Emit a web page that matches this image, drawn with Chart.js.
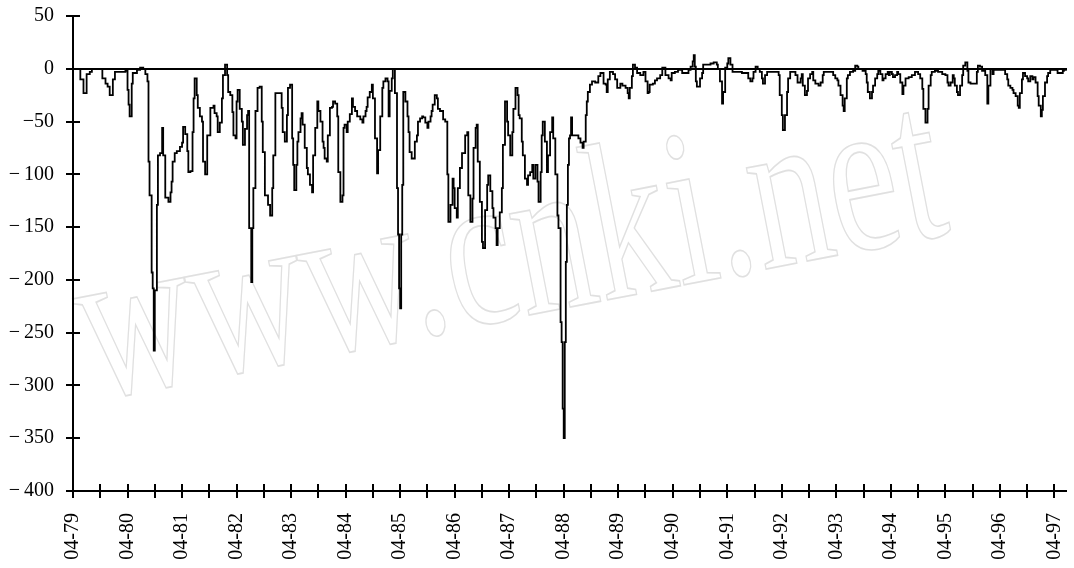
<!DOCTYPE html>
<html>
<head>
<meta charset="utf-8">
<script src="https://cdn.jsdelivr.net/npm/chart.js@4.4.0/dist/chart.umd.min.js"></script>
<style>
  html, body { margin: 0; padding: 0; background: #fff; }
  #wrap { width: 1074px; height: 568px; }
</style>
</head>
<body>
<div id="wrap"><canvas id="c" width="1074" height="568"></canvas></div>
<script>
// Weekly series, x = week number counted from the first week of April 1979.
const weekIndex = [
  0,5,7,10,13,16,18,23,28,31,33,35,38,40,50,52,53,54,56,57,
  61,64,67,69,71,72,73,75,76,77,78,80,81,83,85,86,88,91,93,94,
  95,97,99,102,104,105,107,109,110,112,114,115,116,
  118,119,121,123,124,126,128,131,134,135,137,138,140,142,143,145,147,148,150,152,
  153,155,156,157,159,161,162,164,166,167,168,170,171,172,174,176,178,180,181,183,
  186,188,190,191,193,199,200,202,204,205,207,209,210,211,213,214,215,217,218,219,
  221,223,224,226,228,229,231,233,234,236,238,239,240,242,243,245,247,
  248,250,252,253,255,257,258,259,261,262,264,266,267,269,271,274,276,277,279,280,
  281,283,285,286,288,290,291,293,295,296,298,300,301,302,304,305,307,309,310,311,
  312,313,314,315,317,319,320,321,323,326,328,329,331,333,334,336,338,339,341,342,
  343,345,347,348,350,353,355,357,358,360,362,363,364,366,367,369,371,374,376,377,
  379,381,382,384,385,386,388,390,391,393,395,396,398,400,401,403,404,405,407,409,
  410,412,414,415,417,419,420,422,424,425,426,428,429,431,433,434,436,438,439,441,
  443,444,446,447,448,450,452,453,455,457,458,460,462,463,465,466,467,468,469,470,
  471,472,473,474,475,476,482,484,486,487,489,490,491,493,495,498,501,
  503,506,508,509,510,512,515,517,519,522,524,527,529,530,531,533,534,536,538,541,
  544,546,548,549,550,553,555,557,560,562,565,568,570,571,574,577,581,587,589,591,
  592,593,594,595,598,600,601,608,611,614,615,617,619,620,622,624,625,627,629,638,
  644,646,648,649,651,653,655,657,658,660,662,673,674,676,677,679,681,682,684,689,
  691,694,695,696,698,700,701,703,705,706,708,711,713,715,716,725,727,729,730,732,
  734,735,736,738,739,741,744,746,748,749,753,756,757,758,760,762,763,765,767,768,
  770,772,773,775,777,778,779,781,782,784,786,787,789,791,792,794,797,800,803,806,
  808,810,811,813,815,816,818,819,822,825,829,832,834,835,837,839,840,841,843,844,
  846,848,849,851,853,854,856,861,862,863,865,867,870,872,873,875,877,878,
  889,891,892,894,896,897,899,901,902,903,905,906,908,910,911,913,915,916,918,920,
  921,923,924,925,927,929,930,932,939,942,944,945,947
];

const weeklyValue = [
  0,0,-10,-23,-5,-3,0,0,-9,-14,-17,-25,-10,-3,-2,-20,-34,-45,-14,-4,
  -1,1,0,-5,-12,-88,-120,-193,-208,-267,-210,-129,-82,-80,-56,-82,-122,-126,-117,-107,
  -88,-80,-78,-74,-70,-55,-62,-78,-98,-97,-60,-28,-9,
  -25,-37,-45,-50,-88,-100,-63,-37,-35,-42,-45,-60,-51,-28,-6,4,-6,-22,-25,-41,
  -63,-66,-31,-20,-38,-50,-72,-57,-44,-40,-151,-202,-151,-113,-40,-18,-17,-50,-79,-120,
  -129,-139,-113,-82,-23,-37,-60,-69,-44,-18,-15,-66,-91,-115,-91,-69,-60,-47,-42,-53,
  -75,-94,-100,-110,-117,-82,-56,-31,-40,-50,-69,-75,-85,-88,-63,-37,-36,
  -31,-33,-45,-98,-126,-120,-56,-53,-60,-50,-43,-28,-36,-40,-45,-48,-51,-45,-40,-36,
  -27,-22,-15,-28,-66,-99,-77,-45,-18,-12,-9,-12,-45,-21,-9,0,-23,-113,-157,-208,
  -227,-157,-110,-22,-31,-45,-60,-79,-85,-69,-63,-50,-47,-45,-46,-51,-56,-50,-45,-40,
  -34,-25,-28,-38,-40,-48,-50,-100,-145,-129,-104,-113,-132,-141,-113,-94,-80,-63,-60,-120,
  -145,-123,-75,-56,-53,-88,-126,-164,-170,-134,-110,-101,-116,-132,-141,-151,-167,-151,-136,-113,
  -72,-31,-50,-63,-82,-60,-38,-18,-25,-44,-47,-69,-82,-104,-110,-101,-98,-91,-104,-91,
  -107,-126,-98,-63,-50,-69,-98,-82,-60,-46,-66,-100,-139,-151,-240,-259,-322,-350,-259,-183,
  -129,-91,-66,-63,-46,-63,-66,-70,-75,-69,-44,-31,-22,-15,-12,-13,-7,
  -4,-14,-15,-22,-10,-3,-5,-10,-18,-14,-16,-18,-23,-28,-18,-7,4,1,-4,-6,
  -3,-12,-23,-22,-15,-14,-11,-9,-6,1,-6,-9,-11,-4,-3,-1,-4,-1,2,7,
  13,2,-12,-17,-9,-4,4,5,6,4,0,-12,-33,-22,1,5,10,4,-3,-4,
  -9,-12,-9,-3,2,0,-3,-9,-14,-6,-3,-6,-25,-44,-58,-44,-22,-9,-3,-6,
  -13,-9,-5,-16,-25,-21,-9,-5,-3,-11,-14,-16,-13,-6,-3,-6,-9,-11,-16,-25,
  -35,-40,-28,-9,-6,-3,-2,3,2,0,-2,-5,-13,-22,-28,-22,-16,-9,-5,-2,
  -5,-11,-9,-5,-3,-6,-3,-5,-8,-6,-3,-5,-13,-24,-16,-9,-8,-6,-3,-5,
  -9,-19,-38,-51,-38,-16,-6,-3,-2,-3,-5,-6,-13,-16,-13,-6,-9,-16,-22,-25,
  -16,-6,3,6,-2,-13,-14,-14,-3,3,2,-2,-6,-33,-16,0,-5,-1,
  -5,-10,-16,-18,-20,-23,-26,-35,-37,-23,-10,-4,-7,-9,-12,-7,-10,-8,-13,-26,
  -35,-45,-39,-26,-13,-7,-4,-1,-4,-4,-2,-1,0
];

// Axis ticks
const xTickWeeks = [];            // one tick every half year (26 weeks)
for (let k = 0; k <= 36; k++) xTickWeeks.push(k * 26);
const xTickLabels = ['04-79','04-80','04-81','04-82','04-83','04-84','04-85','04-86','04-87',
                     '04-88','04-89','04-90','04-91','04-92','04-93','04-94','04-95','04-96','04-97'];
const yTickValues = [50, 0, -50, -100, -150, -200, -250, -300, -350, -400];
const yTickLabels = ['50', '0', '\u221250', '\u2212\u2009100', '\u2212\u2009150', '\u2212\u2009200',
                     '\u2212\u2009250', '\u2212\u2009300', '\u2212\u2009350', '\u2212\u2009400'];

const points = weekIndex.map((w, i) => ({ x: w, y: weeklyValue[i] }));
const tickFont = { family: '"Liberation Serif", "Times New Roman", serif', size: 20 };

// Axis lines, cross ticks and the zero reference line
const axesPlugin = {
  id: 'crossAxes',
  afterDatasetsDraw(chart) {
    const { ctx, chartArea: a, scales: { x, y } } = chart;
    ctx.save();
    ctx.strokeStyle = '#000';
    ctx.lineWidth = 2;
    ctx.lineCap = 'butt';
    // zero line
    const y0 = Math.round(y.getPixelForValue(0));
    ctx.beginPath(); ctx.moveTo(a.left, y0); ctx.lineTo(a.right, y0); ctx.stroke();
    // axes
    ctx.beginPath();
    ctx.moveTo(a.left, a.top - 1); ctx.lineTo(a.left, a.bottom);
    ctx.moveTo(a.left, a.bottom); ctx.lineTo(a.right, a.bottom);
    ctx.stroke();
    // y ticks crossing the axis
    ctx.beginPath();
    yTickValues.forEach(v => {
      const py = Math.round(y.getPixelForValue(v));
      ctx.moveTo(a.left - 7, py); ctx.lineTo(a.left + 7, py);
    });
    // x ticks crossing the axis
    xTickWeeks.forEach(w => {
      const px = Math.round(x.getPixelForValue(w));
      ctx.moveTo(px, a.bottom - 7); ctx.lineTo(px, a.bottom + 7);
    });
    ctx.stroke();
    ctx.restore();
  }
};

// Faint outlined site mark behind the plot
const markPlugin = {
  id: 'siteMark',
  beforeDatasetsDraw(chart) {
    const ctx = chart.ctx;
    ctx.save();
    ctx.translate(92, 400);
    ctx.rotate(-11 * Math.PI / 180);
    ctx.scale(1.0, 1.42);
    ctx.font = '158px "Liberation Serif", serif';
    ctx.strokeStyle = '#e0e0e0';
    ctx.lineWidth = 1.2;
    ctx.strokeText('www.cnki.net', 0, 0);
    ctx.restore();
  }
};

new Chart(document.getElementById('c'), {
  type: 'line',
  data: {
    datasets: [{
      data: points,
      borderColor: '#000',
      borderWidth: 1.8,
      pointRadius: 0,
      stepped: true,
      fill: false,
      tension: 0
    }]
  },
  options: {
    responsive: false,
    animation: false,
    events: [],
    layout: { padding: { top: 16, right: 7, left: 0, bottom: 0 } },
    plugins: { legend: { display: false }, tooltip: { enabled: false } },
    scales: {
      x: {
        type: 'linear',
        min: 0,
        max: 948,
        grid: { display: false, drawTicks: false },
        border: { display: false },
        afterBuildTicks: s => { s.ticks = xTickWeeks.map(v => ({ value: v })); },
        afterFit: s => { s.height = 77; s.paddingLeft = 0; s.paddingRight = 0; },
        ticks: {
          autoSkip: false,
          minRotation: 90,
          maxRotation: 90,
          padding: 22,
          color: '#000',
          font: tickFont,
          callback: v => (v % 52 === 0 ? xTickLabels[v / 52] : '')
        }
      },
      y: {
        min: -400,
        max: 50,
        grid: { display: false, drawTicks: false },
        border: { display: false },
        afterBuildTicks: s => { s.ticks = yTickValues.map(v => ({ value: v })); },
        afterFit: s => { s.width = 73; s.paddingTop = 0; s.paddingBottom = 0; },
        ticks: {
          autoSkip: false,
          padding: 19,
          color: '#000',
          font: tickFont,
          callback: v => yTickLabels[yTickValues.indexOf(v)]
        }
      }
    }
  },
  plugins: [markPlugin, axesPlugin]
});
</script>
</body>
</html>
